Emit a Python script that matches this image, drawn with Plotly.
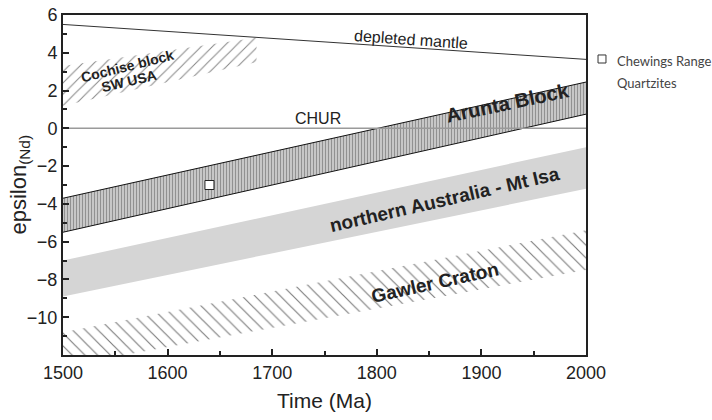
import plotly.graph_objects as go

# Age span of the model evolution bands (Ma)
time_ends = [1500, 2000]

# Reference reservoirs
depleted_mantle = [5.5, 3.65]
chur = [0, 0]

# Crustal domains: upper / lower epsilon Nd envelopes at 1500 and 2000 Ma
arunta_upper = [-3.7, 2.45]
arunta_lower = [-5.5, 0.75]
nausa_upper = [-7.0, -1.0]
nausa_lower = [-8.9, -3.2]
gawler_upper = [-10.8, -5.4]
gawler_lower = [-12.6, -7.5]

# Cochise block (SW USA) envelope
cochise_time = [1500, 1685]
cochise_upper = [3.3, 4.8]
cochise_lower = [1.2, 3.5]

# Sample
sample_name = "Chewings Range Quartzites"
sample_time = [1640]
sample_eps = [-3.0]

x_ticks = [1500, 1600, 1700, 1800, 1900, 2000]
y_ticks = [-10, -8, -6, -4, -2, 0, 2, 4, 6]
y_minor = [-11, -9, -7, -5, -3, -1, 1, 3, 5]

INK = "#222222"


def band(t, upper, lower):
    return list(t) + list(t[::-1]), list(upper) + list(lower[::-1])


fig = go.Figure()

# Gawler Craton – diagonal hatch
bx, by = band(time_ends, gawler_upper, gawler_lower)
fig.add_trace(go.Scatter(
    x=bx, y=by, mode="lines", fill="toself", line=dict(width=0),
    fillcolor="rgba(0,0,0,0)",
    fillpattern=dict(shape="\\", size=9, solidity=0.13, fgcolor="#000000", bgcolor="white"),
    showlegend=False, hoverinfo="skip"))

# northern Australia - Mt Isa – solid grey
bx, by = band(time_ends, nausa_upper, nausa_lower)
fig.add_trace(go.Scatter(
    x=bx, y=by, mode="lines", fill="toself", line=dict(width=0),
    fillcolor="#d5d5d5", showlegend=False, hoverinfo="skip"))

# Arunta Block – vertical hatch with outline
bx, by = band(time_ends, arunta_upper, arunta_lower)
fig.add_trace(go.Scatter(
    x=bx, y=by, mode="lines", fill="toself", line=dict(width=0),
    fillcolor="rgba(0,0,0,0)",
    fillpattern=dict(shape="|", size=3, solidity=0.5, fgcolor="#4a4a4a", bgcolor="#d8d8d8"),
    showlegend=False, hoverinfo="skip"))
for edge in (arunta_upper, arunta_lower):
    fig.add_trace(go.Scatter(x=time_ends, y=edge, mode="lines",
                             line=dict(color="#111111", width=1),
                             showlegend=False, hoverinfo="skip"))

# Cochise block – forward hatch
bx, by = band(cochise_time, cochise_upper, cochise_lower)
fig.add_trace(go.Scatter(
    x=bx, y=by, mode="lines", fill="toself", line=dict(width=0),
    fillcolor="rgba(0,0,0,0)",
    fillpattern=dict(shape="/", size=8, solidity=0.13, fgcolor="#111111", bgcolor="white"),
    showlegend=False, hoverinfo="skip"))

# CHUR and depleted mantle
fig.add_trace(go.Scatter(x=time_ends, y=chur, mode="lines",
                         line=dict(color="#9a9a9a", width=1.5),
                         showlegend=False, hoverinfo="skip"))
fig.add_trace(go.Scatter(x=time_ends, y=depleted_mantle, mode="lines",
                         line=dict(color="#333333", width=1),
                         showlegend=False, hoverinfo="skip"))

# Chewings Range Quartzites sample
fig.add_trace(go.Scatter(
    x=sample_time, y=sample_eps, mode="markers", name=sample_name,
    marker=dict(symbol="square", size=9, color="white",
                line=dict(color="#222222", width=1)),
    showlegend=False))

labels = [
    dict(x=1833, y=4.68, text="depleted mantle", textangle=4, size=16, bold=False),
    dict(x=1744, y=0.54, text="CHUR", textangle=0, size=16, bold=False),
    dict(x=1562, y=3.28, text="Cochise block", textangle=-14, size=14, bold=True),
    dict(x=1563, y=2.50, text="SW USA", textangle=-13, size=14, bold=True),
    dict(x=1925, y=1.34, text="Arunta Block", textangle=-12, size=20, bold=True),
    dict(x=1865, y=-3.76, text="northern Australia - Mt Isa", textangle=-13, size=19, bold=True),
    dict(x=1856, y=-8.16, text="Gawler Craton", textangle=-12.5, size=19, bold=True),
]
for lab in labels:
    txt = f"<b>{lab['text']}</b>" if lab["bold"] else lab["text"]
    fig.add_annotation(x=lab["x"], y=lab["y"], xref="x", yref="y", text=txt,
                       textangle=lab["textangle"], showarrow=False,
                       font=dict(family="Liberation Sans, Arial", size=lab["size"], color=INK))

# Vertical axis title
fig.add_annotation(x=-0.083, y=0.5, xref="paper", yref="paper",
                   xanchor="center", yanchor="middle", textangle=-90,
                   text="epsilon<sub>(Nd)</sub>", showarrow=False,
                   font=dict(family="Liberation Sans, Arial", size=22, color=INK))

# Key for the sample symbol, placed in the right margin
key_x, key_y = 1.0306, 0.8706
fig.add_shape(type="rect", xref="paper", yref="paper",
              x0=key_x - 0.0076, x1=key_x + 0.0076,
              y0=key_y - 0.0118, y1=key_y + 0.0118,
              line=dict(color="#333333", width=1), fillcolor="white")
key_lines = ["Chewings Range", "Quartzites"]
for i, line_text in enumerate(key_lines):
    fig.add_annotation(x=key_x + 0.024, y=key_y - 0.006 - i * 0.0647,
                       xref="paper", yref="paper", xanchor="left", yanchor="middle",
                       text=line_text, showarrow=False,
                       font=dict(family="Lato", size=13, color="#444444"))

fig.update_layout(
    width=712, height=420,
    margin=dict(l=63, r=126, t=15, b=65),
    paper_bgcolor="white", plot_bgcolor="white",
    font=dict(family="Liberation Sans, Arial", color=INK),
    showlegend=False,
)

fig.update_xaxes(
    range=[1500, 2000], tickvals=x_ticks, showgrid=False, zeroline=False,
    showline=True, mirror=True, linecolor=INK, linewidth=2, automargin=False,
    ticks="inside", ticklen=6, tickwidth=1.5, tickcolor=INK,
    minor=dict(dtick=50, ticks="inside", ticklen=4, tickwidth=1.5, tickcolor=INK),
    tickfont=dict(size=18, color=INK),
    title=dict(text="Time (Ma)", font=dict(size=21, color=INK), standoff=12),
)
fig.update_yaxes(
    range=[-12, 6], tickvals=y_ticks, showgrid=False, zeroline=False,
    showline=True, mirror=True, linecolor=INK, linewidth=2, automargin=False,
    ticks="inside", ticklen=6, tickwidth=1.5, tickcolor=INK,
    minor=dict(tickvals=y_minor, ticks="inside", ticklen=4, tickwidth=1.5, tickcolor=INK),
    tickfont=dict(size=18, color=INK),
)

fig.write_html("out.html")
